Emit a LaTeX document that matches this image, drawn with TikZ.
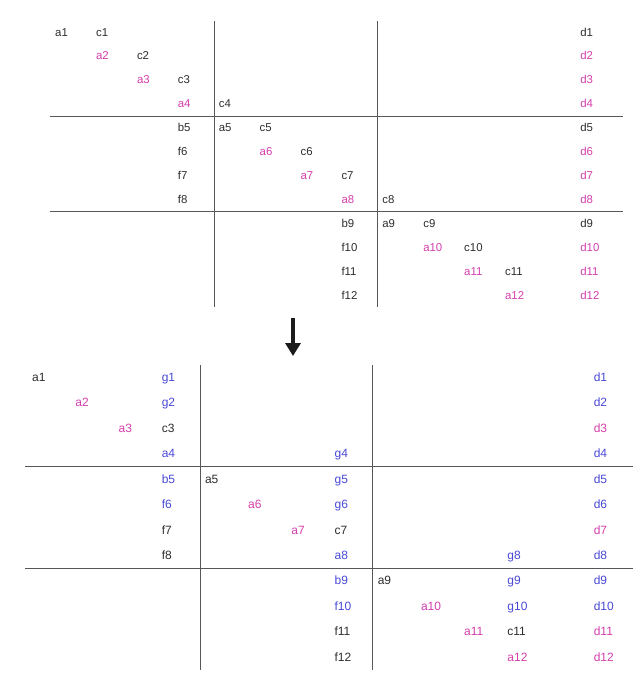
\documentclass[tikz,border=0pt]{standalone}
\usepackage{fontspec}
\setmainfont{Liberation Sans}
\usepackage{tikz}
\usetikzlibrary{arrows.meta}

\definecolor{pinkA}{RGB}{212,62,172}
\definecolor{blueA}{RGB}{72,72,214}
\definecolor{inkA}{RGB}{45,45,45}

\tikzset{
  lbl/.style={anchor=west, inner sep=0pt, text depth=0pt, text=inkA},
  pk/.style={lbl, text=pinkA},
  bl/.style={lbl, text=blueA},
  rule/.style={draw=inkA!80, line width=1bp}
}

\begin{document}
\begin{tikzpicture}[x=1bp, y=-1bp]
\useasboundingbox (0,0) rectangle (644,676);

% upper table
\begin{scope}[shift={(14.1bp,-8.1bp)}, x=40.9bp, y=-23.9bp,
  every node/.append style={font=\fontsize{11.4bp}{13bp}\selectfont, text height=8.2bp}]
\draw [rule] (4.89,0.54) -- (4.89,12.5);
\draw [rule] (8.88,0.54) -- (8.88,12.5);
\draw [rule] (0.88,4.52) -- (14.89,4.52);
\draw [rule] (0.88,8.52) -- (14.89,8.52);

\node [lbl] (ta1) at (1,1) {a1};   \node [lbl] (tc1) at (2,1) {c1};   \node [lbl] (td1) at (13.84,1) {d1};
\node [pk] (ta2) at (2,2) {a2};    \node [lbl] (tc2) at (3,2) {c2};   \node [pk] (td2) at (13.84,2) {d2};
\node [pk] (ta3) at (3,3) {a3};    \node [lbl] (tc3) at (4,3) {c3};   \node [pk] (td3) at (13.84,3) {d3};
\node [pk] (ta4) at (4,4) {a4};    \node [lbl] (tc4) at (5,4) {c4};   \node [pk] (td4) at (13.84,4) {d4};
\node [lbl] (tb5) at (4,5) {b5};   \node [lbl] (ta5) at (5,5) {a5};   \node [lbl] (tc5) at (6,5) {c5};   \node [lbl] (td5) at (13.84,5) {d5};
\node [lbl] (tf6) at (4,6) {f6};   \node [pk] (ta6) at (6,6) {a6};    \node [lbl] (tc6) at (7,6) {c6};   \node [pk] (td6) at (13.84,6) {d6};
\node [lbl] (tf7) at (4,7) {f7};   \node [pk] (ta7) at (7,7) {a7};    \node [lbl] (tc7) at (8,7) {c7};   \node [pk] (td7) at (13.84,7) {d7};
\node [lbl] (tf8) at (4,8) {f8};   \node [pk] (ta8) at (8,8) {a8};    \node [lbl] (tc8) at (9,8) {c8};   \node [pk] (td8) at (13.84,8) {d8};
\node [lbl] (tb9) at (8,9) {b9};   \node [lbl] (ta9) at (9,9) {a9};   \node [lbl] (tc9) at (10,9) {c9};  \node [lbl] (td9) at (13.84,9) {d9};
\node [lbl] (tf10) at (8,10) {f10}; \node [pk] (ta10) at (10,10) {a10}; \node [lbl] (tc10) at (11,10) {c10}; \node [pk] (td10) at (13.84,10) {d10};
\node [lbl] (tf11) at (8,11) {f11}; \node [pk] (ta11) at (11,11) {a11}; \node [lbl] (tc11) at (12,11) {c11}; \node [pk] (td11) at (13.84,11) {d11};
\node [lbl] (tf12) at (8,12) {f12}; \node [pk] (ta12) at (12,12) {a12}; \node [pk] (td12) at (13.84,12) {d12};
\end{scope}

% arrow between the tables
\coordinate (arrtop) at (293,318);
\coordinate (arrbot) at (293,356);
\draw [line width=4.5bp, inkA!60!black, -{Triangle[length=13bp,width=15bp]}] (arrtop) -- (arrbot);

% lower table
\begin{scope}[shift={(-11.2bp,-351.55bp)}, x=43.2bp, y=-25.45bp,
  every node/.append style={font=\fontsize{12bp}{14bp}\selectfont, text height=8.6bp}]
\draw [rule] (4.89,0.53) -- (4.89,12.5);
\draw [rule] (8.89,0.53) -- (8.89,12.5);
\draw [rule] (0.84,4.53) -- (14.91,4.53);
\draw [rule] (0.84,8.51) -- (14.91,8.51);

\node [lbl] (ba1) at (1,1) {a1};   \node [bl] (bg1) at (4,1) {g1};    \node [bl] (bd1) at (14,1) {d1};
\node [pk] (ba2) at (2,2) {a2};    \node [bl] (bg2) at (4,2) {g2};    \node [bl] (bd2) at (14,2) {d2};
\node [pk] (ba3) at (3,3) {a3};    \node [lbl] (bc3) at (4,3) {c3};   \node [pk] (bd3) at (14,3) {d3};
\node [bl] (ba4) at (4,4) {a4};    \node [bl] (bg4) at (8,4) {g4};    \node [bl] (bd4) at (14,4) {d4};
\node [bl] (bb5) at (4,5) {b5};    \node [lbl] (ba5) at (5,5) {a5};   \node [bl] (bg5) at (8,5) {g5};    \node [bl] (bd5) at (14,5) {d5};
\node [bl] (bf6) at (4,6) {f6};    \node [pk] (ba6) at (6,6) {a6};    \node [bl] (bg6) at (8,6) {g6};    \node [bl] (bd6) at (14,6) {d6};
\node [lbl] (bf7) at (4,7) {f7};   \node [pk] (ba7) at (7,7) {a7};    \node [lbl] (bc7) at (8,7) {c7};   \node [pk] (bd7) at (14,7) {d7};
\node [lbl] (bf8) at (4,8) {f8};   \node [bl] (ba8) at (8,8) {a8};    \node [bl] (bg8) at (12,8) {g8};   \node [bl] (bd8) at (14,8) {d8};
\node [bl] (bb9) at (8,9) {b9};    \node [lbl] (ba9) at (9,9) {a9};   \node [bl] (bg9) at (12,9) {g9};   \node [bl] (bd9) at (14,9) {d9};
\node [bl] (bf10) at (8,10) {f10}; \node [pk] (ba10) at (10,10) {a10}; \node [bl] (bg10) at (12,10) {g10}; \node [bl] (bd10) at (14,10) {d10};
\node [lbl] (bf11) at (8,11) {f11}; \node [pk] (ba11) at (11,11) {a11}; \node [lbl] (bc11) at (12,11) {c11}; \node [pk] (bd11) at (14,11) {d11};
\node [lbl] (bf12) at (8,12) {f12}; \node [pk] (ba12) at (12,12) {a12}; \node [pk] (bd12) at (14,12) {d12};
\end{scope}

\end{tikzpicture}
\end{document}
